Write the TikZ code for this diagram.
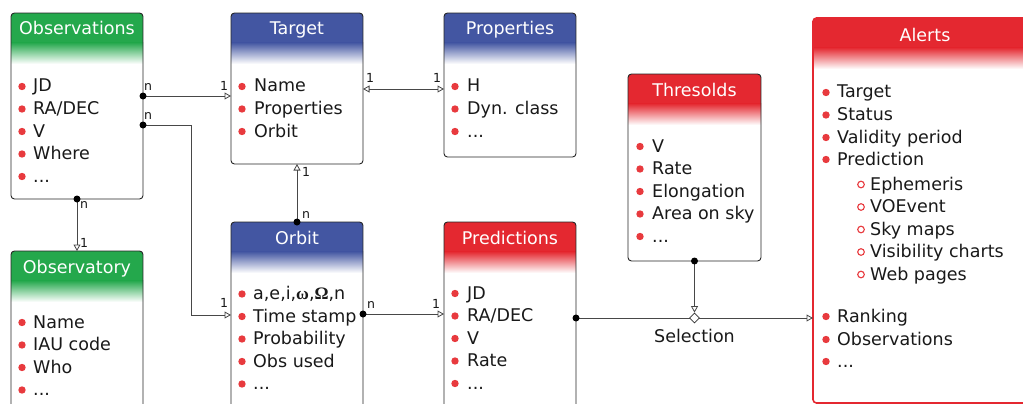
\documentclass[tikz,border=0pt]{standalone}
\usepackage{fontspec}
\setmainfont{DejaVu Sans}
\newfontfamily\grkfont{Liberation Serif}
\usetikzlibrary{arrows.meta,calc,shapes.geometric}
\definecolor{hgreen}{RGB}{36,168,76}
\definecolor{hblue}{RGB}{67,86,162}
\definecolor{hred}{RGB}{228,40,48}
\definecolor{bulletred}{RGB}{232,58,62}
\newcommand\grk[1]{{\grkfont\bfseries #1}}
\newcommand\dd{.\kern0pt.\kern0pt.}
\newcommand\umlbox[7]{%
  \node[box, hdr=#6, minimum width=#4pt, minimum height=#5pt] (#1) at (#2,#3) {};
  \node[ttl] (#1-title) at ($(#1.north)+(0,22)$) {#7};}
\newcommand\itemlist[6]{%
  \foreach \txt [count=\i] in {#6} {
    \fill[bulletred] (#2, {#4+(\i-1)*#5-5.5}) circle[radius=3.7pt];
    \node[itm] (#1-\i) at (#3, {#4+(\i-1)*#5}) {\txt};
  }}
\begin{document}
\begin{tikzpicture}[x=1pt,y=-1pt,
  box/.style={draw=black!85, line width=0.9pt, rounded corners=3.5pt, fill=white, anchor=north west, inner sep=0pt, outer sep=0pt},
  hdr/.style={path picture={
    \fill[#1, sharp corners] (path picture bounding box.north west) rectangle ([yshift=-30pt]path picture bounding box.north east);
    \shade[top color=#1, bottom color=white, sharp corners] ([yshift=-29.5pt]path picture bounding box.north west) rectangle ([yshift=-51pt]path picture bounding box.north east);}},
  ttl/.style={text=white, anchor=base, inner sep=0pt, font=\fontsize{17.5}{20}\selectfont},
  itm/.style={anchor=base west, inner sep=0pt, text=black!90, font=\fontsize{17.5}{20}\selectfont},
  card/.style={inner sep=0pt, font=\fontsize{12.5}{14}\selectfont, text=black!90},
  conn/.style={draw=black!72, line width=0.8pt, -{Triangle[open, length=6.5pt, width=7pt]}},
  dotc/.style={fill=black}]
\useasboundingbox (0,0) rectangle (1023,404);
\clip (0,0) rectangle (1023,404);
\fill[white] (0,0) rectangle (1023,404);

% boxes
\umlbox{obs}{11}{13}{132}{186}{hgreen}{Observations}
\itemlist{obs}{22}{33}{92}{22.5}{JD,{RA/DEC},V,Where,\dd}
\umlbox{tgt}{231}{13}{132}{151}{hblue}{Target}
\itemlist{tgt}{242}{254}{92}{22.5}{Name,Properties,Orbit}
\umlbox{prop}{444}{13}{132}{144}{hblue}{Properties}
\itemlist{prop}{455}{467}{92}{22.5}{H,{Dyn. class},\dd}
\umlbox{obsy}{11}{251}{132}{200}{hgreen}{Observatory}
\itemlist{obsy}{22}{33}{328}{22.5}{Name,{IAU code},Who,\dd}
\umlbox{orb}{231}{222}{132}{200}{hblue}{Orbit}
\itemlist{orb}{242}{253}{299.5}{22.5}{{a,e,i,\grk{ω},\grk{Ω},n},{Time stamp},Probability,{Obs used},\dd}
\umlbox{pred}{444}{222}{132}{200}{hred}{Predictions}
\itemlist{pred}{455}{467}{299}{22.5}{JD,{RA/DEC},V,Rate,\dd}
\umlbox{thr}{628}{74}{133}{187}{hred}{Thresolds}
\itemlist{thr}{640}{652}{152}{22.5}{V,Rate,Elongation,{Area on sky},\dd}

% Alerts
\node[box, draw=hred, line width=1.6pt, hdr=hred, minimum width=240pt, minimum height=385pt] (alerts) at (813,18) {};
\node[ttl] (alerts-t) at (925,42) {Alerts};
\foreach \txt/\yy [count=\i] in {Target/98, Status/120.5, {Validity period}/143, Prediction/165, Ranking/322, Observations/345, \dd/367} {
  \fill[bulletred] (826, \yy-5.5) circle[radius=3.7pt];
  \node[itm] (al-\i) at (837, \yy) {\txt};
}
\foreach \txt/\yy [count=\i] in {Ephemeris/190, VOEvent/212.5, {Sky maps}/235, {Visibility charts}/257.5, {Web pages}/280} {
  \draw[bulletred, line width=1.1pt] (861, \yy-5.5) circle[radius=3.3pt];
  \node[itm] (sub-\i) at (870, \yy) {\txt};
}

% connectors
\coordinate (c1) at ($(obs.north east)+(0,83)$);
\draw[conn] (c1) -- (c1 -| tgt.west);
\fill[dotc] (c1) circle[radius=3.5pt];
\coordinate (c2) at ($(obs.north east)+(0,112)$);
\coordinate (c2b) at ($(orb.north west)+(0,93)$);
\draw[conn] (c2) -- ++(48,0) |- (c2b);
\fill[dotc] (c2) circle[radius=3.5pt];
\coordinate (c3) at ($(tgt.north east)+(0,76)$);
\draw[conn, {Triangle[open, length=6.5pt, width=7pt]}-{Triangle[open, length=6.5pt, width=7pt]}] (c3) -- (c3 -| prop.west);
\draw[conn] (orb.north) -- (tgt.south);
\fill[dotc] (orb.north) circle[radius=3.5pt];
\draw[conn] (obs.south) -- (obsy.north);
\fill[dotc] (obs.south) circle[radius=3.5pt];
\coordinate (c4) at ($(orb.north east)+(0,92)$);
\draw[conn] (c4) -- (c4 -| pred.west);
\fill[dotc] (c4) circle[radius=3.5pt];
\coordinate (c5) at ($(pred.north east)+(0,96)$);
\draw[conn] (c5) -- (c5 -| alerts.west);
\fill[dotc] (c5) circle[radius=3.5pt];
\node[diamond, draw=black!80, fill=white, line width=0.8pt, minimum width=10pt, minimum height=10pt, inner sep=0pt] (sel) at (c5 -| thr.south) {};
\draw[conn] (thr.south) -- (sel.north);
\fill[dotc] (thr.south) circle[radius=3.5pt];
\node[itm, anchor=base] (seltxt) at ($(sel)+(0,24)$) {Selection};

% cardinalities
\node[card] (l1) at (148,87) {n};
\node[card] (l2) at (224,86) {1};
\node[card] (l3) at (148,116) {n};
\node[card] (l4) at (224,303) {1};
\node[card] (l5) at (370,78) {1};
\node[card] (l6) at (437,78) {1};
\node[card] (l7) at (306,215) {n};
\node[card] (l8) at (306,172) {1};
\node[card] (l9) at (84,205) {n};
\node[card] (l10) at (84,243) {1};
\node[card] (l11) at (371,305) {n};
\node[card] (l12) at (436,304) {1};
\end{tikzpicture}
\end{document}
